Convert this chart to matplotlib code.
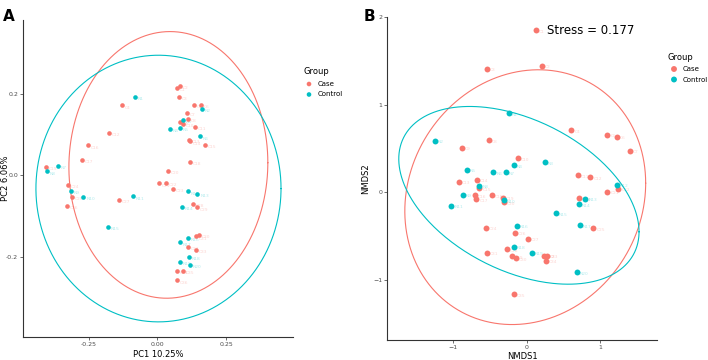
import numpy as np
import matplotlib.pyplot as plt

red = '#F8766D'
cyan = '#00BFC4'

# ---- panel A : PCoA ----
pca_case_x = [0.071, 0.083, 0.079, -0.128, 0.133, 0.159, 0.109, 0.111, 0.082, 0.095,
              0.138, -0.176, 0.114, 0.120, 0.173, -0.254, -0.274, 0.118, -0.405, 0.040,
              0.005, 0.030, 0.057, -0.324, -0.309, -0.329, -0.138, 0.130, 0.146, 0.151,
              0.141, 0.110, 0.139, 0.071, 0.092, 0.071]
pca_case_y = [0.214, 0.219, 0.192, 0.171, 0.173, 0.173, 0.153, 0.137, 0.130, 0.125,
              0.119, 0.104, 0.087, 0.083, 0.074, 0.073, 0.038, 0.033, 0.020, 0.011,
              -0.020, -0.019, -0.033, -0.024, -0.054, -0.076, -0.060, -0.070, -0.079, -0.146,
              -0.150, -0.176, -0.184, -0.235, -0.235, -0.258]
pca_ctrl_x = [-0.081, 0.161, 0.093, 0.045, 0.083, 0.155, -0.362, -0.403, -0.314, -0.269,
              -0.088, 0.112, 0.146, 0.089, -0.181, 0.111, 0.082, 0.114, 0.083, 0.117]
pca_ctrl_y = [0.192, 0.162, 0.136, 0.113, 0.116, 0.095, 0.022, 0.009, -0.039, -0.054,
              -0.052, -0.040, -0.046, -0.078, -0.127, -0.154, -0.165, -0.201, -0.213, -0.220]
# ellipse: centre x, centre y, half width, half height, cross term
pca_ell_case = [0.040, 0.025, 0.362, 0.327, 0.002]
pca_ell_ctrl = [0.004, -0.033, 0.446, 0.327, 0.0]

# ---- panel B : NMDS ----
nmds_case_x = [0.122, 0.208, -0.542, 0.609, 1.097, 1.228, 1.399, -0.515, -0.876, -0.122,
               0.695, 0.867, -0.921, -0.673, -0.641, -0.700, -0.682, -0.474, -0.321, -0.303,
               1.097, 1.246, 0.718, -0.555, 0.907, -0.163, 0.014, -0.271, -0.203, -0.149,
               -0.542, 0.235, 0.275, 0.257, -0.167]
nmds_case_y = [1.855, 1.447, 1.412, 0.706, 0.656, 0.637, 0.473, 0.592, 0.511, 0.389,
               0.191, 0.172, 0.122, 0.141, 0.046, -0.031, -0.080, -0.034, -0.065, -0.115,
               0.004, 0.038, -0.069, -0.408, -0.412, -0.462, -0.531, -0.649, -0.733, -0.756,
               -0.691, -0.729, -0.729, -0.782, -1.168]
nmds_ctrl_x = [-0.244, -1.242, 0.248, -0.176, -0.808, -0.451, -0.280, -0.641, -0.867, -0.312,
               -1.020, 1.223, 0.799, 0.709, 0.393, -0.131, 0.727, -0.172, 0.072, 0.686]
nmds_ctrl_y = [0.905, 0.588, 0.340, 0.309, 0.256, 0.229, 0.229, 0.073, -0.027, -0.092,
               -0.153, 0.084, -0.076, -0.141, -0.240, -0.382, -0.378, -0.622, -0.691, -0.916]
nmds_ell_case = [-0.018, -0.057, 1.634, 1.458, 0.261]
nmds_ell_ctrl = [-0.104, -0.036, 1.630, 1.017, -0.68]
stress_text = 'Stress = 0.177'

case_names = ['C%d' % (i + 1) for i in range(36)]
ctrl_names = ['N%d' % (i + 1) for i in range(20)]


def ellipse_xy(p, n=300):
    cx, cy, w, h, sxy = p
    c = sxy / w
    d = np.sqrt(h ** 2 - c ** 2)
    t = np.linspace(0, 2 * np.pi, n)
    return cx + w * np.cos(t), cy + c * np.cos(t) + d * np.sin(t)


def style(ax):
    for s in ['top', 'right']:
        ax.spines[s].set_visible(False)
    for s in ['left', 'bottom']:
        ax.spines[s].set_color('#333333')
        ax.spines[s].set_linewidth(0.8)
    ax.tick_params(labelsize=4.5, length=2, width=0.5, colors='#333333',
                   labelcolor='#4d4d4d', pad=1.5)


def draw(ax, cx, cy, nx, ny, ell_a, ell_b, size, dx, dy):
    ax.scatter(cx, cy, s=size, color=red, linewidths=0, zorder=3)
    ax.scatter(nx, ny, s=size, color=cyan, linewidths=0, zorder=3)
    for xx, yy, nm in zip(cx, cy, case_names):
        ax.text(xx + dx, yy - dy, nm, fontsize=3.2, color=red, alpha=0.3, zorder=2)
    for xx, yy, nm in zip(nx, ny, ctrl_names):
        ax.text(xx + dx, yy - dy, nm, fontsize=3.2, color=cyan, alpha=0.3, zorder=2)
    ex, ey = ellipse_xy(ell_a)
    ax.plot(ex, ey, color=red, lw=0.8)
    ex, ey = ellipse_xy(ell_b)
    ax.plot(ex, ey, color=cyan, lw=0.8)


fig = plt.figure(figsize=(7.08, 3.6), dpi=100)

ax1 = fig.add_axes([0.0325, 0.064, 0.3815, 0.88])
draw(ax1, pca_case_x, pca_case_y, pca_ctrl_x, pca_ctrl_y,
     pca_ell_case, pca_ell_ctrl, 11, 0.01, 0.008)
ax1.set_xlim(-0.489, 0.494)
ax1.set_ylim(-0.397, 0.38)
ax1.set_xticks([-0.25, 0.0, 0.25])
ax1.set_xticklabels(['-0.25', '0.00', '0.25'])
ax1.set_yticks([-0.2, 0.0, 0.2])
ax1.set_yticklabels(['-0.2', '0.0', '0.2'])
ax1.set_xlabel('PC1 10.25%', fontsize=6, labelpad=2)
ax1.set_ylabel('PC2 6.06%', fontsize=6)
ax1.yaxis.set_label_coords(-0.048, 0.5)
style(ax1)

ax2 = fig.add_axes([0.547, 0.056, 0.381, 0.898])
draw(ax2, nmds_case_x, nmds_case_y, nmds_ctrl_x, nmds_ctrl_y,
     nmds_ell_case, nmds_ell_ctrl, 18, 0.04, 0.03)
ax2.text(0.28, 1.855, stress_text, fontsize=8.5, va='center', ha='left')
ax2.set_xlim(-1.89, 1.77)
ax2.set_ylim(-1.69, 2.01)
ax2.set_xticks([-1, 0, 1])
ax2.set_yticks([-1, 0, 1, 2])
ax2.set_xlabel('NMDS1', fontsize=6, labelpad=2)
ax2.set_ylabel('NMDS2', fontsize=6)
ax2.yaxis.set_label_coords(-0.065, 0.5)
style(ax2)

# legends
for lx, ly in [(303, 72), (668, 57)]:
    fig.text(lx / 708, 1 - ly / 360, 'Group', fontsize=6, va='center', ha='left')
    mx = lx + 6
    fig.text(mx / 708 + 0.012, 1 - (ly + 12) / 360, 'Case', fontsize=5, va='center')
    fig.text(mx / 708 + 0.012, 1 - (ly + 22.5) / 360, 'Control', fontsize=5, va='center')
lax = fig.add_axes([0, 0, 1, 1], facecolor='none')
lax.set_xlim(0, 708)
lax.set_ylim(360, 0)
lax.axis('off')
lax.scatter([309, 309], [84, 94.5], s=11, color=[red, cyan], linewidths=0)
lax.scatter([674, 674], [69, 79.5], s=18, color=[red, cyan], linewidths=0)

fig.text(0.004, 0.975, 'A', fontsize=11, fontweight='bold', va='top')
fig.text(0.513, 0.975, 'B', fontsize=11, fontweight='bold', va='top')

fig.savefig('out.png', dpi=100)
